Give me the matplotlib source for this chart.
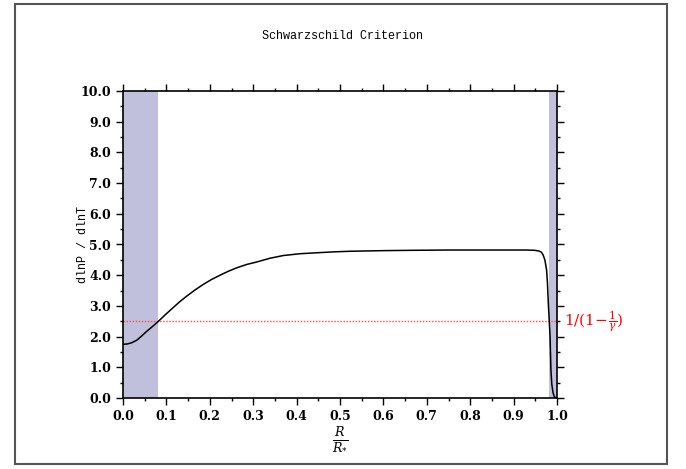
import matplotlib
matplotlib.use("Agg")
import matplotlib.pyplot as plt
from matplotlib.patches import Rectangle
from matplotlib.ticker import MultipleLocator, FormatStrFormatter

# Data
r_vals = [0.0, 0.01, 0.02, 0.0315, 0.043, 0.0545, 0.068, 0.081, 0.098, 0.116, 0.131,
          0.147, 0.166, 0.185, 0.204, 0.2235, 0.243, 0.262, 0.285, 0.308, 0.338,
          0.369, 0.408, 0.446, 0.485, 0.523, 0.6, 0.661, 0.75, 0.85, 0.93, 0.949,
          0.958, 0.964, 0.968, 0.972, 0.976, 0.978, 0.98, 0.982, 0.984, 0.986,
          0.988, 0.991, 0.994, 0.998]
dlnp_dlnt = [1.75, 1.76, 1.80, 1.88, 2.02, 2.17, 2.33, 2.49, 2.72, 2.95, 3.14,
             3.32, 3.52, 3.70, 3.86, 4.00, 4.13, 4.24, 4.35, 4.43, 4.55,
             4.64, 4.70, 4.73, 4.76, 4.78, 4.80, 4.81, 4.82, 4.82, 4.82, 4.81,
             4.79, 4.75, 4.66, 4.50, 4.17, 3.75, 3.09, 2.55, 2.00, 0.91,
             0.45, 0.16, 0.04, 0.0]
shade_left = (0.0, 0.08)
shade_right = (0.981, 1.0)
crit_value = 2.5
title = "Schwarzschild Criterion"
ylabel = "dlnP / dlnT"
xlabel = r"$\frac{R}{R_{*}}$"
crit_label = r"$1/(1\!-\!\frac{1}{\gamma})$"

plt.rcParams['font.family'] = ['DejaVu Serif']
plt.rcParams['mathtext.fontset'] = 'dejavuserif'

fig = plt.figure(figsize=(6.86, 4.69), dpi=100)
fig.patch.set_facecolor('white')
fig.patches.append(Rectangle((15/686, 5/469), 652/686, 460/469, transform=fig.transFigure,
                             fill=False, edgecolor='#555555', linewidth=1.5))

ax = fig.add_axes([123/686, 71/469, 434/686, 307/469])
ax.axvspan(*shade_left, color='#c0c0dc', lw=0, zorder=0)
ax.axvspan(*shade_right, color='#c0c0dc', lw=0, zorder=0)
ax.axhline(crit_value, color='#ff4a4a', lw=1.0, ls=(0, (1, 1.2)), zorder=1)
ax.plot(r_vals, dlnp_dlnt, color='black', lw=1.1, zorder=2)

ax.set_xlim(0, 1)
ax.set_ylim(0, 10)
ax.xaxis.set_major_locator(MultipleLocator(0.1))
ax.xaxis.set_minor_locator(MultipleLocator(0.05))
ax.yaxis.set_major_locator(MultipleLocator(1.0))
ax.yaxis.set_minor_locator(MultipleLocator(0.5))
ax.xaxis.set_major_formatter(FormatStrFormatter('%.1f'))
ax.yaxis.set_major_formatter(FormatStrFormatter('%.1f'))
ax.tick_params(which='both', direction='out', top=True, right=True, labelsize=9, width=1)
ax.tick_params(which='major', length=5)
ax.tick_params(which='minor', length=2.5)
for lab in ax.get_xticklabels() + ax.get_yticklabels():
    lab.set_fontweight('semibold')
for s in ax.spines.values():
    s.set_linewidth(1.2)

ax.set_ylabel(ylabel, fontsize=8.5, family=['Liberation Mono'])
ax.yaxis.set_label_coords(-0.078, 0.5)
ax.set_xlabel(xlabel, fontsize=13, labelpad=2)
fig.text(0.5, 1 - 36/469, title, ha='center', va='center', fontsize=8.5,
         family=['Liberation Mono'])
ax.text(1.015, crit_value, crit_label, color='red', fontsize=11, va='center', ha='left',
        transform=ax.get_yaxis_transform())

fig.savefig('out.png', dpi=100)
